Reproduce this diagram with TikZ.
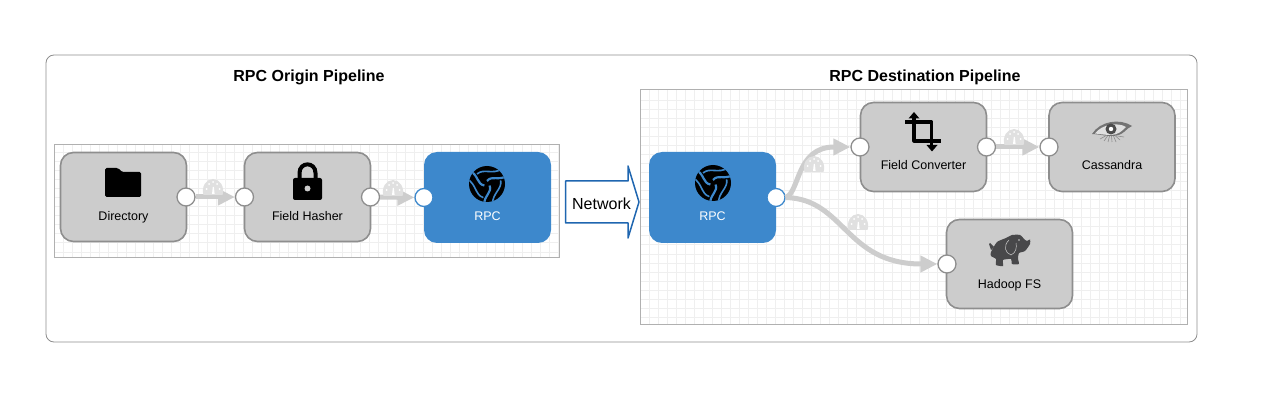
\documentclass[tikz,border=0pt]{standalone}
\usepackage{fontspec}
\setmainfont{Liberation Sans}
\usetikzlibrary{arrows.meta}
\definecolor{stagefill}{HTML}{CCCCCC}
\definecolor{stageline}{HTML}{8E8E8E}
\definecolor{rpcblue}{HTML}{3D88CC}
\definecolor{edgegray}{HTML}{CDCDCD}
\definecolor{gridline}{HTML}{EFEFEF}
\definecolor{canvasline}{HTML}{B0B0B0}
\definecolor{netblue}{HTML}{1F66B0}
\definecolor{gaugegray}{HTML}{E0E0E0}
\definecolor{elephant}{HTML}{48484A}
\tikzset{
  stagebox/.style={draw=stageline,fill=stagefill,line width=1.6pt,rounded corners=13pt,minimum width=126pt,minimum height=89pt,inner sep=0pt},
  rpcbox/.style={fill=rpcblue,rounded corners=13pt,minimum width=127pt,minimum height=91pt,inner sep=0pt},
  port/.style={circle,draw=stageline,fill=white,line width=1.3pt,minimum size=18pt,inner sep=0pt},
  rpcport/.style={port,draw=rpcblue},
  stagelabel/.style={font=\fontsize{12.5}{15}\selectfont,text=black,inner sep=0pt,anchor=base},
  rpclabel/.style={font=\fontsize{12.5}{15}\selectfont,text=white,inner sep=0pt,anchor=base},
  titlelabel/.style={font=\bfseries\fontsize{16}{19}\selectfont,text=black,inner sep=0pt,anchor=base},
  flow/.style={draw=edgegray,line width=5pt,-{Triangle[length=17pt,width=16pt]}},
  iconline/.style={draw=black,line width=3.2pt,line join=round},
}
\newcommand{\gridpanel}[6]{% x0 y0 x1 y1 firstx firsty
  \fill[white] (#1,#2) rectangle (#3,#4);
  \begin{scope}
    \clip (#1,#2) rectangle (#3,#4);
    \foreach \gx in {0,9,...,560} \draw[gridline,line width=1pt] ({#5+\gx},#2) -- ({#5+\gx},#4);
    \foreach \gy in {0,9,...,240} \draw[gridline,line width=1pt] (#1,{#6+\gy}) -- (#3,{#6+\gy});
  \end{scope}
  \draw[canvasline,line width=1pt] (#1,#2) rectangle (#3,#4);
}
\newcommand{\gauge}[2]{%
  \begin{scope}[shift={(#1,#2)}]
    \fill[gaugegray] (-9.5,7) .. controls (-12,-1) and (-7,-9) .. (0,-9) .. controls (7,-9) and (12,-1) .. (9.5,7) -- cycle;
    \fill[white] (-1,6) -- (-0.2,-1) -- (0.9,-1) -- (1.6,6) -- cycle;
    \foreach \dx/\dy in {-6.5/1,-4/-4,0/-6,4/-4,6.5/1} \fill[white] (\dx,\dy) circle (1);
  \end{scope}
}
\newcommand{\swirl}[2]{%
  \begin{scope}[shift={(#1,#2)}]
    \fill[black] (0,0) circle (18);
    \begin{scope}
      \clip (0,0) circle (18);
      \foreach \r in {0,120,240} {
        \begin{scope}[rotate=\r]
          \draw[rpcblue,line width=1.6pt] (-10,-10) .. controls (-3,-16) and (5,-9) .. (15,-15);
          \draw[rpcblue,line width=2.2pt] (0,-3) .. controls (5,-9) and (11,-3) .. (20,-8);
        \end{scope}
      }
    \end{scope}
  \end{scope}
}
\begin{document}
\begin{tikzpicture}[x=1pt,y=-1pt]
\useasboundingbox (0,0) rectangle (1269,414);
\fill[white] (0,0) rectangle (1269,414);
% outer frame
\draw[stageline,line width=0.8pt,rounded corners=8pt] (46,55) rectangle (1197,342);
\node[titlelabel] (titleA) at (309,81.5) {RPC Origin Pipeline};
\node[titlelabel] (titleB) at (925,81.5) {RPC Destination Pipeline};
% canvases
\gridpanel{54.5}{144.5}{559.5}{257}{63}{153}
\gridpanel{640.5}{89.5}{1187.5}{324}{649}{101}
% boxes
\node[stagebox] (dir) at (123.5,197) {};
\node[stagebox] (hash) at (307.5,197) {};
\node[rpcbox] (rpcA) at (487.5,197.5) {};
\node[rpcbox] (rpcB) at (712.5,197.5) {};
\node[stagebox] (conv) at (923.5,147) {};
\node[stagebox] (cass) at (1112,147) {};
\node[stagebox] (hdfs) at (1009.5,264) {};
% labels
\node[stagelabel] (dirL) at (123.5,220.5) {Directory};
\node[stagelabel] (hashL) at (307.5,220.5) {Field Hasher};
\node[rpclabel] (rpcAL) at (487.5,221) {RPC};
\node[rpclabel] (rpcBL) at (712.5,221) {RPC};
\node[stagelabel] (convL) at (923.5,170) {Field Converter};
\node[stagelabel] (cassL) at (1112,170) {Cassandra};
\node[stagelabel] (hdfsL) at (1009.5,288.5) {Hadoop FS};
% ports
\node[port] (dirOut) at (186,197) {};
\node[port] (hashIn) at (244.5,197) {};
\node[port] (hashOut) at (370.5,197) {};
\node[rpcport] (rpcAIn) at (424,197.5) {};
\node[rpcport] (rpcBOut) at (776,197.5) {};
\node[port] (convIn) at (860,147) {};
\node[port] (convOut) at (986.5,147) {};
\node[port] (cassIn) at (1049,147) {};
\node[port] (hdfsIn) at (947,264) {};
% connectors
\draw[flow] (dirOut) -- (hashIn);
\draw[flow] (hashOut) -- (rpcAIn);
\draw[flow] (convOut) -- (cassIn);
\draw[flow] (rpcBOut.east) .. controls (800,192) and (796,147) .. (convIn.west);
\draw[flow] (rpcBOut.east) .. controls (845,199) and (845,264) .. (hdfsIn.west);
% gauges
\gauge{213}{188}
\gauge{393}{189}
\gauge{814}{165}
\gauge{858}{223}
\gauge{1014}{138}
% folder icon
\fill[black,rounded corners=1.5pt] (105,197) -- (105,168) -- (118,168) -- (122,172) -- (141,172) -- (141,197) -- cycle;
% lock icon
\fill[black,rounded corners=2pt] (293,178) rectangle (322,200);
\draw[black,line width=4pt] (299.5,179) -- (299.5,173) .. controls (299.5,161.5) and (315.5,161.5) .. (315.5,173) -- (315.5,179);
\fill[stagefill] (307.5,188.5) circle (3);
% swirls
\swirl{487}{184}
\swirl{713}{183}
% crop icon
\draw[iconline] (905,122) -- (931.5,122) -- (931.5,146);
\draw[iconline] (914,118) -- (914,141) -- (941,141);
\fill[black] (914,112) -- (919.5,118.5) -- (908.5,118.5) -- cycle;
\fill[black] (932,151.5) -- (926.5,145) -- (937.5,145) -- cycle;
% eye icon
\fill[black!55] (1092,134) .. controls (1100,121) and (1120,118) .. (1132,126) .. controls (1126,128) and (1124,136) .. (1112,136) .. controls (1104,136) and (1098,134) .. (1092,134) -- cycle;
\fill[black!12] (1095,133.5) .. controls (1102,124) and (1118,122) .. (1126,127) .. controls (1122,131) and (1118,135) .. (1111,135) .. controls (1105,135) and (1100,134) .. (1095,133.5) -- cycle;
\fill[black!70] (1111,129) circle (5.5);
\fill[white] (1111,129) circle (2.2);
\foreach \lx/\ly in {1100/139,1104/141,1108/142,1112/142,1116/142,1120/140,1124/137}
  \draw[black!45,line width=0.6pt] ({(\lx+1111)/2},136) -- (\lx,\ly);
% elephant icon
\fill[elephant] plot[smooth cycle,tension=0.35] coordinates {(991,252) (997,242) (1006,238) (1012,235) (1020,235) (1025,240) (1027,241) (1030,239.5) (1030,244) (1025,251) (1019,253) (1018,259) (1019,264) (1012,264) (1011,259) (1003,260) (1003,266) (996,265) (996,259) (991,256)};
\fill[elephant] (991,250) -- (989,244) -- (990,243) -- (994,247) -- cycle;
\draw[stagefill,line width=0.5pt] (1009,240) .. controls (1003,246) and (1005,253) .. (1011,255) .. controls (1016,253) and (1017,247) .. (1016,243);
\fill[stagefill] (1019,240) circle (0.8);
% network arrow
\draw[netblue,fill=white,line width=1.5pt,line join=round] (565.5,181) -- (628,181) -- (628,166) -- (639,202) -- (628,238) -- (628,223) -- (565.5,223) -- cycle;
\node[font=\fontsize{16}{19}\selectfont,inner sep=0pt,anchor=base] (netL) at (601.5,209.5) {Network};
\end{tikzpicture}
\end{document}
